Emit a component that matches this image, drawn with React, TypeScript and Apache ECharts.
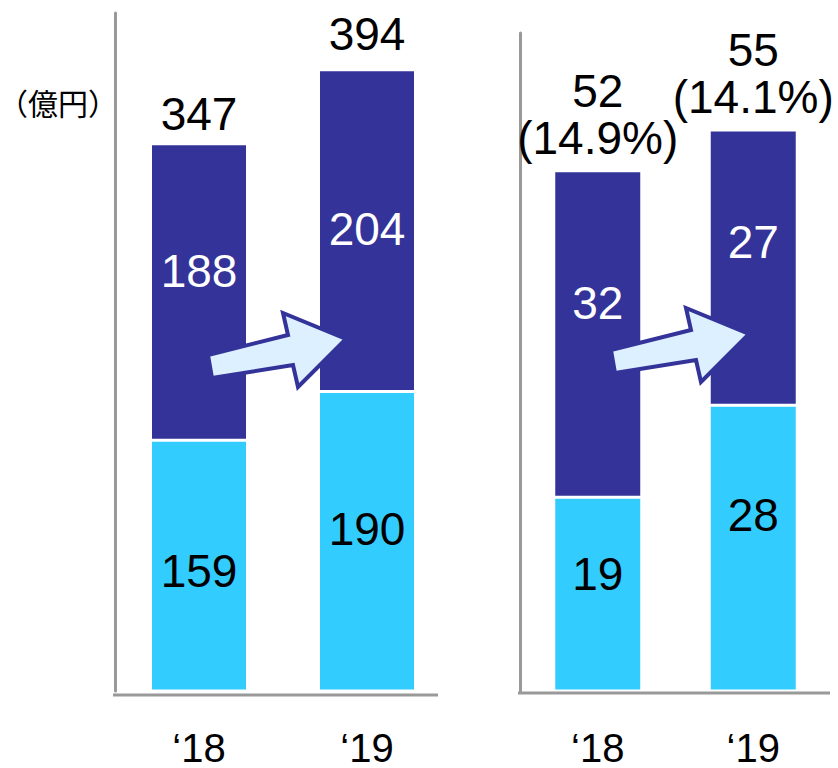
import React, { useEffect, useRef } from "react";
import * as echarts from "echarts";

const categories = ["\u201818", "\u201819"];
const leftLower = [159, 190];
const leftUpper = [188, 204];
const leftTotals = ["347", "394"];
const rightLower = [19, 28];
const rightUpper = [32, 27];
const rightTotals = ["52", "55"];
const rightRatios = ["(14.9%)", "(14.1%)"];
const unitLabel = "\uff08\u5104\u5186\uff09";

const FONT = "'Liberation Sans', Arial, sans-serif";
const DARK = "#333399";
const LIGHT = "#33CCFF";
const AXIS = "#999999";

const arrowShape = [
  [208, 355], [212, 378], [293, 365], [298, 387], [346, 339], [283, 313], [288, 335],
];

export default function App() {
  const ref = useRef<HTMLDivElement>(null);
  useEffect(() => {
    if (!ref.current) return;
    const chart = echarts.init(ref.current, null, { renderer: "svg" });

    const inLabel = (offsets: number[]) => (v: number, i: number) => ({
      value: v,
      label: { offset: [0, offsets[i]] },
    });

    const valLabel = (color: string) => ({
      show: true,
      position: "inside",
      color,
      fontSize: 46,
      fontFamily: FONT,
    });

    const barBase = {
      type: "bar",
      itemStyle: { borderColor: "#ffffff", borderWidth: 1.5 },
    };

    const leftSums = leftLower.map((v, i) => v + leftUpper[i]);
    const rightSums = rightLower.map((v, i) => v + rightUpper[i]);

    const xAxisCommon = {
      type: "category",
      data: categories,
      boundaryGap: true,
      axisLine: { show: false },
      axisTick: { show: false },
      axisLabel: { color: "#000", fontSize: 40, lineHeight: 28, fontFamily: FONT, margin: 43 },
    };
    const yAxisCommon = {
      type: "value",
      min: 0,
      axisLine: { show: true, lineStyle: { color: AXIS, width: 3 } },
      axisTick: { show: false },
      axisLabel: { show: false },
      splitLine: { show: false },
    };

    const totalBase = {
      type: "line",
      symbol: "circle",
      symbolSize: 1,
      itemStyle: { color: "rgba(0,0,0,0)" },
      lineStyle: { width: 0, opacity: 0 },
      z: 5,
    };

    const leftTotalOffsets = [0, -6];

    const option = {
      animation: false,
      grid: [
        { left: 115, top: 13, width: 336, height: 682 },
        { left: 520, top: 33, width: 311, height: 660 },
      ],
      xAxis: [
        { ...xAxisCommon, gridIndex: 0 },
        { ...xAxisCommon, gridIndex: 1 },
      ],
      yAxis: [
        { ...yAxisCommon, gridIndex: 0, max: 430 },
        { ...yAxisCommon, gridIndex: 1, max: 64.5 },
      ],
      series: [
        {
          ...barBase, xAxisIndex: 0, yAxisIndex: 0, stack: "L", barWidth: 97,
          color: LIGHT, label: valLabel("#000"),
          data: leftLower.map(inLabel([5, -12])),
        },
        {
          ...barBase, xAxisIndex: 0, yAxisIndex: 0, stack: "L", barWidth: 97,
          color: DARK, label: valLabel("#fff"),
          data: leftUpper.map(inLabel([-21, -2])),
        },
        {
          ...totalBase, xAxisIndex: 0, yAxisIndex: 0,
          data: leftSums.map((v, i) => ({ value: v, label: { offset: [0, leftTotalOffsets[i]] } })),
          label: {
            show: true, position: "top", distance: 6, color: "#000", fontSize: 46, fontFamily: FONT,
            formatter: (p: any) => leftTotals[p.dataIndex],
          },
        },
        {
          ...barBase, xAxisIndex: 1, yAxisIndex: 1, stack: "R", barWidth: 88,
          color: LIGHT, label: valLabel("#000"),
          data: rightLower.map(inLabel([-20, -33])),
        },
        {
          ...barBase, xAxisIndex: 1, yAxisIndex: 1, stack: "R", barWidth: 88,
          color: DARK, label: valLabel("#fff"),
          data: rightUpper.map(inLabel([-31, -26])),
        },
        {
          ...totalBase, xAxisIndex: 1, yAxisIndex: 1, data: rightSums,
          label: {
            show: true, position: "top", distance: 9, color: "#000", fontSize: 46, fontFamily: FONT,
            lineHeight: 47,
            formatter: (p: any) => rightTotals[p.dataIndex] + "\n" + rightRatios[p.dataIndex],
          },
        },
      ],
      graphic: [
        {
          type: "text", right: 838 - 118, top: 87, z: 10,
          style: { text: unitLabel, fontSize: 30, fill: "#000", fontFamily: "'Noto Sans CJK JP', sans-serif" },
        },
        {
          type: "line", z: 10,
          shape: { x1: 113, y1: 695, x2: 438, y2: 695 },
          style: { stroke: AXIS, lineWidth: 3 },
        },
        {
          type: "line", z: 10,
          shape: { x1: 518, y1: 693, x2: 830, y2: 693 },
          style: { stroke: AXIS, lineWidth: 3 },
        },
        {
          type: "polygon", z: 100,
          shape: { points: arrowShape },
          style: { fill: "#DDF0FF", stroke: DARK, lineWidth: 4, lineJoin: "miter" },
        },
        {
          type: "polygon", z: 100, x: 403, y: -5,
          shape: { points: arrowShape },
          style: { fill: "#DDF0FF", stroke: DARK, lineWidth: 4, lineJoin: "miter" },
        },
      ],
    };
    chart.setOption(option as any);
    return () => chart.dispose();
  }, []);
  return (
    <div
      ref={ref}
      style={{ position: "fixed", left: 0, top: 0, width: 838, height: 768, background: "#fff" }}
    />
  );
}
